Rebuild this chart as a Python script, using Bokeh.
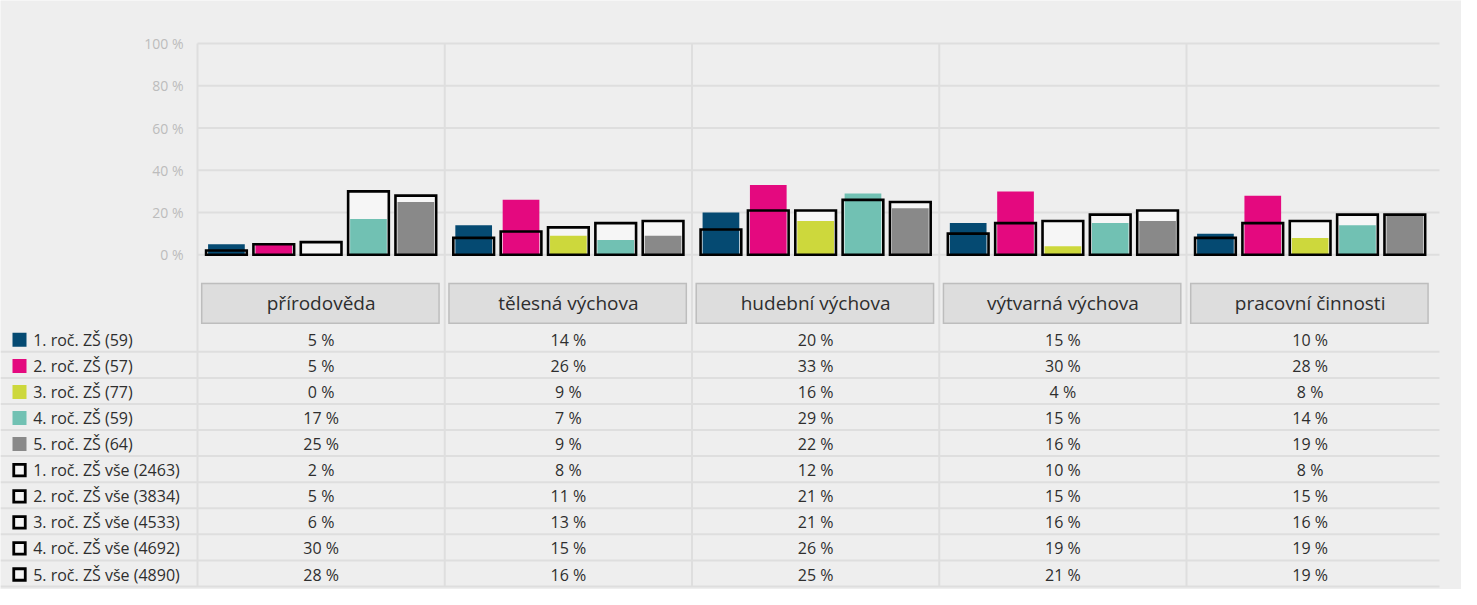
from bokeh.plotting import figure
from bokeh.models import Range1d, LinearAxis, FixedTicker, PrintfTickFormatter
from bokeh.embed import file_html
from bokeh.resources import INLINE
from bokeh.core.properties import value

# ---------------- data ----------------
categories = ["přírodověda", "tělesná výchova", "hudební výchova", "výtvarná výchova", "pracovní činnosti"]

class_labels = ["1. roč. ZŠ (59)", "2. roč. ZŠ (57)", "3. roč. ZŠ (77)", "4. roč. ZŠ (59)", "5. roč. ZŠ (64)"]
all_labels = ["1. roč. ZŠ vše (2463)", "2. roč. ZŠ vše (3834)", "3. roč. ZŠ vše (4533)",
              "4. roč. ZŠ vše (4692)", "5. roč. ZŠ vše (4890)"]

class_1 = [5, 14, 20, 15, 10]
class_2 = [5, 26, 33, 30, 28]
class_3 = [0, 9, 16, 4, 8]
class_4 = [17, 7, 29, 15, 14]
class_5 = [25, 9, 22, 16, 19]

all_1 = [2, 8, 12, 10, 8]
all_2 = [5, 11, 21, 15, 15]
all_3 = [6, 13, 21, 16, 16]
all_4 = [30, 15, 26, 19, 19]
all_5 = [28, 16, 25, 21, 19]

class_values = [class_1, class_2, class_3, class_4, class_5]
all_values = [all_1, all_2, all_3, all_4, all_5]

colors = ["#054a72", "#e4097f", "#cdd83c", "#71c1b3", "#898989"]
y_ticks = [0, 20, 40, 60, 80, 100]

# ---------------- layout constants ----------------
FONT = "Open Sans"
BG = "#eeeeee"
GRID = "#dedede"
TXT = "#2e2e2e"

W, H = 1461, 589
col_px = 247.25          # width of one category in px
x0_px = 197.0            # canvas x of category 0 start
y0_px = 254.3            # canvas y of value 0
ppu = 2.113              # px per percent

x_start = -x0_px / col_px
x_end = (W - x0_px) / col_px
y_end = y0_px / ppu
y_start = -(H - y0_px) / ppu

row_h = 26.08 / ppu
row0 = -85.0 / ppu
line0 = -97.0 / ppu
grid_right = (1447 - 205) / col_px

pitch = 0.1915
w_color = 0.1484
w_outline = 0.1646

p = figure(width=W, height=H, x_range=Range1d(x_start, x_end), y_range=Range1d(y_start, y_end),
           x_axis_type=None, y_axis_type=None, toolbar_location=None, output_backend="svg",
           min_border=0, background_fill_color=BG, border_fill_color=BG, outline_line_color=None)

# y axis at category boundary 0
yaxis = LinearAxis(fixed_location=0, ticker=FixedTicker(ticks=y_ticks),
                   formatter=PrintfTickFormatter(format="%d %%"))
yaxis.axis_line_color = None
yaxis.major_tick_line_color = None
yaxis.minor_tick_line_color = None
yaxis.major_tick_in = 0
yaxis.major_tick_out = 0
yaxis.major_label_standoff = 14
yaxis.major_label_text_font = FONT
yaxis.major_label_text_font_size = "14px"
yaxis.major_label_text_color = "#bcbcbc"
p.add_layout(yaxis, "left")

n_cat = len(categories)

# horizontal grid lines
p.segment(x0=[0] * len(y_ticks), x1=[grid_right] * len(y_ticks), y0=y_ticks, y1=y_ticks,
          line_color=GRID, line_width=2)

# vertical column lines
p.segment(x0=list(range(n_cat)), x1=list(range(n_cat)), y0=[100] * n_cat,
          y1=[line0 - 9 * row_h] * n_cat, line_color=GRID, line_width=2)

# table row lines
n_rows = 10
row_lines = [line0 - k * row_h for k in range(n_rows)]
p.segment(x0=[x_start] * n_rows, x1=[grid_right] * n_rows, y0=row_lines, y1=row_lines,
          line_color=GRID, line_width=2)

# bars
cat_x = [i + 0.5 for i in range(n_cat)]
for j in range(5):
    xs = [c + (j - 2) * pitch for c in cat_x]
    p.vbar(x=xs, top=all_values[j], bottom=0, width=w_outline, fill_color="#f6f6f6", line_color=None)
for j in range(5):
    xs = [c + (j - 2) * pitch for c in cat_x]
    p.vbar(x=xs, top=class_values[j], bottom=0, width=w_color, fill_color=colors[j], line_color=None)
for j in range(5):
    xs = [c + (j - 2) * pitch for c in cat_x]
    p.vbar(x=xs, top=all_values[j], bottom=0, width=w_outline, fill_color=None,
           line_color="#000000", line_width=2.6, line_join="miter")

# category header boxes
p.quad(left=[i + 0.017 for i in range(n_cat)], right=[i + 0.977 for i in range(n_cat)],
       top=[-13.6] * n_cat, bottom=[-32.4] * n_cat, fill_color="#dddddd",
       line_color="#bdbdbd", line_width=1.5, line_join="miter")
p.text(x=cat_x, y=[-23.0] * n_cat, text=categories, text_align="center", text_baseline="middle",
       text_font=value(FONT), text_font_size="19px", text_color=TXT)

# table values
all_rows = class_values + all_values
tx, ty, tt = [], [], []
for k, vals in enumerate(all_rows):
    for i, v in enumerate(vals):
        tx.append(cat_x[i])
        ty.append(row0 - k * row_h)
        tt.append(f"{v} %")
p.text(x=tx, y=ty, text=tt, text_align="center", text_baseline="middle",
       text_font=value(FONT), text_font_size="16px", text_color=TXT)

# legend (row labels)
leg_x = (27 - 205) / col_px
lab_x = (40.7 - 205) / col_px
p.rect(x=[leg_x] * 5, y=[row0 - k * row_h for k in range(5)], width=14, height=14,
       width_units="screen", height_units="screen", fill_color=colors, line_color=None)
p.rect(x=[leg_x] * 5, y=[row0 - k * row_h for k in range(5, 10)], width=11.5, height=11.5,
       width_units="screen", height_units="screen", fill_color="#f5f5f5",
       line_color="#000000", line_width=2.8, line_join="miter")
p.text(x=[lab_x] * 10, y=[row0 - k * row_h for k in range(10)], text=class_labels + all_labels,
       text_align="left", text_baseline="middle", text_font=value(FONT), text_font_size="16px",
       text_color=TXT)

open("out.html", "w").write(file_html(p, INLINE))
